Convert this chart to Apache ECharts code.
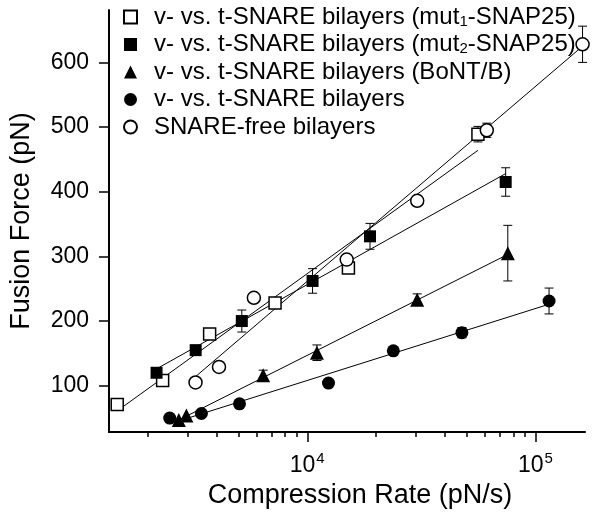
<!DOCTYPE html>
<html><head><meta charset="utf-8">
<script src="https://cdn.jsdelivr.net/npm/echarts@6/dist/echarts.min.js"></script>
<style>html,body{margin:0;padding:0;background:#fff}#c{width:600px;height:516px}</style>
</head><body><div id="c"></div>
<script>
// ---- data ----
const seriesNames = [
  'v- vs. t-SNARE bilayers (mut1-SNAP25)',
  'v- vs. t-SNARE bilayers (mut2-SNAP25)',
  'v- vs. t-SNARE bilayers (BoNT/B)',
  'v- vs. t-SNARE bilayers',
  'SNARE-free bilayers'
];
const mut1X = [1469, 2323, 3733, 7225, 15150, 56000];
const mut1Y = [71, 108, 180, 228, 282, 489];
const mut1Err = [0, 0, 0, 0, 0, 12];

const mut2X = [2185, 3243, 5166, 10550, 18840, 74100];
const mut2Y = [120, 155, 200, 262, 331, 415];
const mut2Err = [0, 0, 17, 19, 20, 22];

const bontX = [2735, 2952, 6408, 11030, 30340, 75700];
const bontY = [47, 54, 116, 151, 233, 305];
const bontErr = [0, 0, 8, 12, 9, 43];

const snareX = [2495, 3436, 5046, 12390, 23840, 47630, 114800];
const snareY = [50, 57, 72, 104, 154, 182, 231];
const snareErr = [0, 0, 0, 0, 0, 8, 20];

const freeX = [3238, 4103, 5834, 14890, 30340, 61240, 161000];
const freeY = [105, 129, 236, 295, 386, 495, 628];
const freeErr = [0, 0, 0, 0, 0, 11, 28];

// fitted lines, endpoints
const fitMut1 = [[1469, 61], [56000, 464]];
const fitMut2 = [[2185, 126], [74100, 428]];
const fitBont = [[2735, 47], [75700, 303]];
const fitSnare = [[2495, 41], [114800, 226]];
const fitFree = [[3238, 114], [161000, 625]];

const yTicks = [100, 200, 300, 400, 500, 600];
const xMajorTicks = [10000, 100000];
const xMajorExp = ['4', '5'];
const xMinorTicks = [2000, 3000, 4000, 5000, 6000, 7000, 8000, 9000,
                     20000, 30000, 40000, 50000, 60000, 70000, 80000, 90000];

// ---- chart ----
const FONT = 'Liberation Sans, Arial, Helvetica, sans-serif';
const zip = (xs, ys) => xs.map((x, i) => [x, ys[i]]);
const errData = (xs, ys, es) => xs.map((x, i) => [x, ys[i] - es[i], ys[i] + es[i]]).filter((d, i) => es[i] > 0);

function errRender(params, api) {
  const x = api.value(0), lo = api.value(1), hi = api.value(2);
  const p1 = api.coord([x, lo]), p2 = api.coord([x, hi]);
  const w = 4.5, st = { stroke: '#000', lineWidth: 1 };
  return { type: 'group', children: [
    { type: 'line', shape: { x1: p1[0], y1: p1[1], x2: p2[0], y2: p2[1] }, style: st },
    { type: 'line', shape: { x1: p1[0] - w, y1: p1[1], x2: p1[0] + w, y2: p1[1] }, style: st },
    { type: 'line', shape: { x1: p2[0] - w, y1: p2[1], x2: p2[0] + w, y2: p2[1] }, style: st }
  ]};
}

const openStyle = { color: '#fff', borderColor: '#000', borderWidth: 1.5, opacity: 1 };
const fillStyle = { color: '#000', borderColor: '#000', borderWidth: 0, opacity: 1 };

const pointDefs = [
  { name: seriesNames[0], data: zip(mut1X, mut1Y), symbol: 'rect', size: 12, style: openStyle },
  { name: seriesNames[1], data: zip(mut2X, mut2Y), symbol: 'rect', size: 12, style: fillStyle },
  { name: seriesNames[2], data: zip(bontX, bontY), symbol: 'triangle', size: 14, style: fillStyle },
  { name: seriesNames[3], data: zip(snareX, snareY), symbol: 'circle', size: 13, style: fillStyle },
  { name: seriesNames[4], data: zip(freeX, freeY), symbol: 'circle', size: 13, style: openStyle }
];
const errs = [errData(mut1X, mut1Y, mut1Err), errData(mut2X, mut2Y, mut2Err), errData(bontX, bontY, bontErr),
              errData(snareX, snareY, snareErr), errData(freeX, freeY, freeErr)];
const fits = [fitMut1, fitMut2, fitBont, fitSnare, fitFree];

const series = [];
fits.forEach(f => series.push({
  type: 'line', data: f, symbol: 'none', silent: true, z: 1,
  lineStyle: { color: '#000', width: 1 }
}));
errs.forEach(e => series.push({
  type: 'custom', data: e, renderItem: errRender, z: 2, silent: true, clip: false
}));
pointDefs.forEach(p => series.push({
  type: 'scatter', name: p.name, data: p.data, symbol: p.symbol, symbolSize: p.size,
  itemStyle: p.style, z: 3, clip: false
}));

const chart = echarts.init(document.getElementById('c'), null, { renderer: 'canvas' });
chart.setOption({
  animation: false,
  backgroundColor: '#fff',
  textStyle: { fontFamily: FONT, color: '#000' },
  grid: { left: 109, right: 15, top: 10, bottom: 84, containLabel: false, outerBoundsMode: 'none' },
  legend: {
    orient: 'vertical', left: 123, top: 5, padding: 0, itemWidth: 13, itemHeight: 13, itemGap: 3.5,
    selectedMode: false,
    data: seriesNames,
    itemStyle: { opacity: 1 },
    formatter: n => n.replace(/mut(\d)/, 'mut{sub|$1}'),
    textStyle: { fontSize: 24, color: '#000', fontFamily: FONT, padding: [0, 0, 0, 12],
      rich: { sub: { fontSize: 15, fontFamily: FONT, color: '#000', padding: [9, 0, 0, 0] } } }
  },
  xAxis: [{
    type: 'log', logBase: 10, min: 1352, max: 165000, gridIndex: 0, position: 'bottom',
    name: 'Compression Rate (pN/s)', nameLocation: 'middle', nameGap: 43,
    nameTextStyle: { fontSize: 27, color: '#000', fontFamily: FONT, padding: [0, 0, 0, 26] },
    axisLine: { onZero: false, lineStyle: { color: '#000', width: 2 } },
    axisTick: { show: true, customValues: xMajorTicks, length: 10, lineStyle: { color: '#000', width: 1.5 } },
    axisLabel: { margin: 14, showMinLabel: false, showMaxLabel: false,
      formatter: v => {
        let best = 0;
        xMajorTicks.forEach((t, i) => { if (Math.abs(t - v) < Math.abs(xMajorTicks[best] - v)) best = i; });
        return '{b|10}{sup|' + xMajorExp[best] + '}';
      },
      rich: { b: { fontSize: 23, fontFamily: FONT, color: '#000', padding: [8, 0, 0, 0] },
              sup: { fontSize: 15, fontFamily: FONT, color: '#000', padding: [0, 0, 6, 1] } } },
    splitLine: { show: false }, minorTick: { show: false }
  }, {
    type: 'log', logBase: 10, min: 1352, max: 165000, gridIndex: 0, position: 'bottom',
    axisLine: { show: false, onZero: false },
    axisTick: { show: true, customValues: xMinorTicks, length: 5, lineStyle: { color: '#000', width: 1.5 } },
    axisLabel: { show: false },
    splitLine: { show: false }
  }],
  yAxis: {
    type: 'value', min: 28.4, max: 681,
    name: 'Fusion Force (pN)', nameLocation: 'middle', nameGap: 74,
    nameTextStyle: { fontSize: 27, color: '#000', fontFamily: FONT },
    axisLine: { show: true, lineStyle: { color: '#000', width: 2 } },
    axisTick: { show: true, customValues: yTicks, length: 10, lineStyle: { color: '#000', width: 1.5 } },
    axisLabel: { customValues: yTicks, margin: 20, fontSize: 23, color: '#000', fontFamily: FONT },
    splitLine: { show: false }
  },
  series: series
});
</script></body></html>
